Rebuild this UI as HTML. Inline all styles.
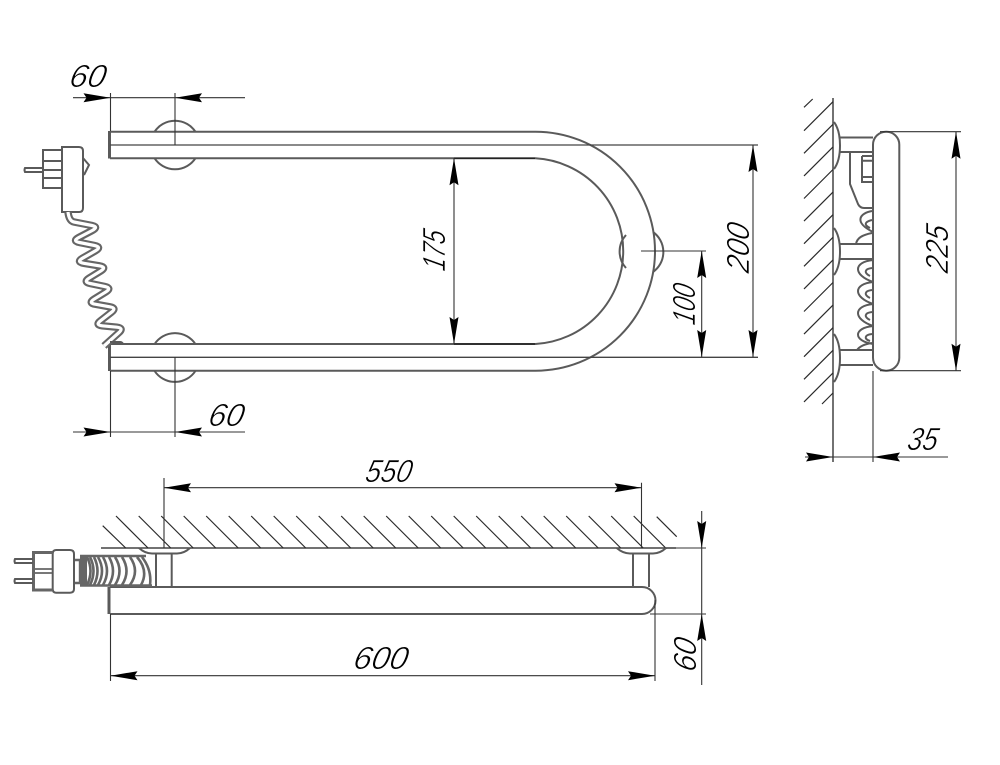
<!DOCTYPE html>
<html><head><meta charset="utf-8"><style>
html,body{margin:0;padding:0;background:#fff}
svg{display:block}
text{font-family:"Liberation Sans",sans-serif;font-style:italic;font-size:32px;fill:#000;stroke:#fff;stroke-width:.6px}
.m{fill:none;stroke:#5a5a5a;stroke-width:2}
.d{fill:none;stroke:#333;stroke-width:1.1}
.h{fill:none;stroke:#2a2a2a;stroke-width:1.2}
</style></head><body>
<svg width="1000" height="765" viewBox="0 0 1000 765" xmlns="http://www.w3.org/2000/svg">
<defs>
<path id="a" d="M0 0L-27 -4.5L-24 0L-27 4.5Z" fill="#000"/>
</defs>
<rect width="1000" height="765" fill="#fff"/>

<!-- FRONT VIEW tube -->
<path class="m" d="M110 131.7H535.5A119.5 119.5 0 0 1 535.5 370.7H110"/>
<path class="m" d="M110 158.3H535.5A93 93 0 0 1 535.5 344H110"/>
<path d="M109.5 131V158.5M109.5 344V371" stroke="#5a5a5a" stroke-width="3" fill="none"/>
<!-- center lines -->
<path d="M110 145H758M110 357.3H758" stroke="#444" stroke-width="1.3" fill="none"/>
<path d="M454 158.3H535M454 344H535" stroke="#222" stroke-width="1.4" fill="none"/>
<!-- rosettes -->
<path class="m" d="M154.6 131.7A24.5 24.5 0 0 1 195.4 131.7M154.6 158.3A24.5 24.5 0 0 0 195.4 158.3"/>
<path class="m" d="M154.6 344A24.5 24.5 0 0 1 195.4 344M154.6 371A24.5 24.5 0 0 0 195.4 371"/>
<path class="m" d="M626 235A24.5 24.5 0 0 0 626 268M653 232A24.5 24.5 0 0 1 653 272"/>

<!-- plug, front view -->
<path class="m" d="M66 147H79Q83 147 83 151V208Q83 212 79 212H62V147Z"/>
<path class="m" d="M62 150H43V188H62M43 161H62M43 170H62M43 178H62"/>
<path class="m" d="M43 168H25Q24 170 25 172H43"/>
<path class="m" d="M83 158L89 165L84 175"/>
<!-- coil -->
<g fill="none" stroke-linecap="butt" stroke-linejoin="round">
<path stroke="#666" stroke-width="7.5" d="M68 212Q69 221 74 222L92 225.5Q99 227 92.2 230.5L78.8 237.5Q72 241 79.5 242.5L94.5 245.5Q102 247 95.5 250.8L82.5 258.2Q76 262 83.8 263.3L99.2 265.8Q107 267 101 270.8L89 278.2Q83 282 90.2 283.5L104.8 286.5Q112 288 106 291.8L94 299.2Q88 303 95.2 304.2L109.8 306.8Q117 308 111.5 312.2L100.5 320.8Q95 325 102.2 325.8L116.8 327.2Q124 328 119 332.5L104 346"/>
<path stroke="#fff" stroke-width="3.2" d="M68 212Q69 221 74 222L92 225.5Q99 227 92.2 230.5L78.8 237.5Q72 241 79.5 242.5L94.5 245.5Q102 247 95.5 250.8L82.5 258.2Q76 262 83.8 263.3L99.2 265.8Q107 267 101 270.8L89 278.2Q83 282 90.2 283.5L104.8 286.5Q112 288 106 291.8L94 299.2Q88 303 95.2 304.2L109.8 306.8Q117 308 111.5 312.2L100.5 320.8Q95 325 102.2 325.8L116.8 327.2Q124 328 119 332.5L104 346"/>
</g>
<path class="m" d="M110 342H120Q122 342 123 344"/>

<!-- front dims -->
<path class="d" d="M110.5 93V131M175 93V145M73 97.7H245"/>
<use href="#a" transform="translate(110.5 97.7)"/>
<use href="#a" transform="translate(175 97.7) rotate(180)"/>
<path class="d" d="M110.5 371V437M175 357V437M73 432H245"/>
<use href="#a" transform="translate(110.5 432)"/>
<use href="#a" transform="translate(175 432) rotate(180)"/>
<path class="d" d="M454 158V344M753 145V357M641 251H706M701.7 251V357"/>
<use href="#a" transform="translate(454 158.3) rotate(-90)"/>
<use href="#a" transform="translate(454 344) rotate(90)"/>
<use href="#a" transform="translate(753 145) rotate(-90)"/>
<use href="#a" transform="translate(753 357) rotate(90)"/>
<use href="#a" transform="translate(701.7 251) rotate(-90)"/>
<use href="#a" transform="translate(701.7 357) rotate(90)"/>
<text transform="translate(68 87) skewX(-12)" textLength="36" lengthAdjust="spacingAndGlyphs">60</text>
<text transform="translate(207 426) skewX(-12)" textLength="35" lengthAdjust="spacingAndGlyphs">60</text>
<text transform="translate(445 272) rotate(-90) skewX(-12)" textLength="40" lengthAdjust="spacingAndGlyphs">175</text>
<text transform="translate(749 274) rotate(-90) skewX(-12)" textLength="49" lengthAdjust="spacingAndGlyphs">200</text>
<text transform="translate(695 326) rotate(-90) skewX(-12)" textLength="40" lengthAdjust="spacingAndGlyphs">100</text>

<!-- SIDE VIEW -->
<path d="M833 98V462" stroke="#444" stroke-width="1.5" fill="none"/>
<path class="h" d="M812.7 99L804 107.3M833 101.7L804 130.7M833 124.3L804 153.3M833 146.9L804 175.9M833 169.5L804 198.5M833 192.1L804 221.1M833 214.7L804 243.7M833 237.3L804 266.3M833 259.9L804 288.9M833 282.5L804 311.5M833 305.1L804 334.1M833 327.7L804 356.7M833 350.3L804 379.3M833 372.9L804 401.9M833 393L822 404"/>
<path class="m" d="M834 122Q840 130 840 145.5Q840 161 834 169M834 228Q840 236 840 251.5Q840 267 834 275M834 334Q840 342 840 358Q840 374 834 382"/>
<path class="m" d="M839 137.5H873M839 152H873M839 244H873M839 259H873M839 350H873M839 365H873"/>
<rect class="m" x="873" y="131.7" width="26.3" height="239" rx="13" ry="13"/>
<path class="m" d="M850 152V184L858 204Q860 208 864 208H873"/>
<path class="m" d="M862 156V182H873M862 156H873M862 160.7H873M862 177H873"/>
<path class="m" d="M872 211C860 213 853 222 873 232M872 220C864 222 864 225 870 228"/>
<path class="m" d="M872 233C862 235 857 238 856 244"/>
<path class="m" d="M873 260C853 262 853 275 873 282M872 268C864 269 864 273 870 276"/>
<path class="m" d="M873 282C853 284 853 297 873 304M872 290C864 291 864 295 870 298"/>
<path class="m" d="M873 304C853 306 853 319 873 326M872 312C864 313 864 317 870 320"/>
<path class="m" d="M873 326C853 328 853 341 873 344M872 334C864 335 864 339 870 341"/>
<path class="m" d="M872 343C865 344 860 346 857 350"/>
<path class="d" d="M880 131.7H961M880 370.7H961M956 131.7V370.7M805 457H948M873 371V462"/>
<use href="#a" transform="translate(956 131.7) rotate(-90)"/>
<use href="#a" transform="translate(956 370.7) rotate(90)"/>
<use href="#a" transform="translate(833 457)"/>
<use href="#a" transform="translate(873 457) rotate(180)"/>
<text transform="translate(948 274) rotate(-90) skewX(-12)" textLength="47" lengthAdjust="spacingAndGlyphs">225</text>
<text transform="translate(906 450) skewX(-12)" textLength="30" lengthAdjust="spacingAndGlyphs">35</text>

<!-- BOTTOM VIEW -->
<path d="M101 548H676" stroke="#444" stroke-width="1.6" fill="none"/>
<path class="h" d="M102.7 525.7L125.7 548M116 516L148 548M138.7 516L170.7 548M161.2 516L193.2 548M183.7 516L215.7 548M206.2 516L238.2 548M228.7 516L260.7 548M251.2 516L283.2 548M273.7 516L305.7 548M296.2 516L328.2 548M318.7 516L350.7 548M341.2 516L373.2 548M363.7 516L395.7 548M386.2 516L418.2 548M408.7 516L440.7 548M431.2 516L463.2 548M453.7 516L485.7 548M476.2 516L508.2 548M498.7 516L530.7 548M521.2 516L553.2 548M543.7 516L575.7 548M566.2 516L598.2 548M588.7 516L620.7 548M611.2 516L643.2 548M633.7 516L665.7 548M656.7 516.7L676.7 536.7"/>
<path class="m" d="M139 548Q145 553.5 152 553.5H177Q184 553.5 190 548M616.7 548Q623 553.5 630 553.5H653Q660 553.5 666 548"/>
<path class="m" d="M156 553V587M171.7 553V587M633 553V587M649 553V587"/>
<path class="m" d="M110 587H642A13.5 13.5 0 0 1 642 614H110"/>
<path d="M109 587V614" stroke="#5a5a5a" stroke-width="3" fill="none"/>
<!-- coil -->
<path d="M80 556H146M80 585.5H152" stroke="#666" stroke-width="2.6" fill="none"/>
<path d="M75 560H80V583H75" stroke="#666" stroke-width="2.4" fill="none"/>
<path d="M80 556H87V586H80Z" fill="#666"/>
<path d="M87 557Q94 571 87 585M90 557Q97 571 90 585M94 557Q101 571 94 585M98 557Q106 571 98 585M103 557Q111 571 103 585M109 557Q117 571 109 585M115 557Q124 571 115 585M122 557Q131 571 122 585M130 557Q140 571 130 585M137 557Q149 571 141 585M142 557Q152 570 150 585" stroke="#666" stroke-width="2.6" fill="none"/>
<!-- plug -->
<path class="m" d="M56 550H70Q74 550 74 554V589Q74 592.7 70 592.7H56Q52.7 592.7 52.7 589V554Q52.7 550 56 550Z"/>
<path d="M52.7 552.5H33.5V590H52.7" fill="none" stroke="#666" stroke-width="3"/>
<path d="M34 569H52M34 573H52" stroke="#666" stroke-width="1.8" fill="none"/>
<path class="m" d="M33 559H15Q14 561 15 563H33M33 579H15Q14 581 15 583H33"/>
<!-- bottom dims -->
<path class="d" d="M164 478V548M641.5 482.7V548M164 487.7H641.5M110.5 614V681M655 600V681M110.5 675.7H655M666 548H706M650 614H706M701.7 511V685"/>
<use href="#a" transform="translate(164 487.7) rotate(180)"/>
<use href="#a" transform="translate(641.5 487.7)"/>
<use href="#a" transform="translate(110.5 675.7) rotate(180)"/>
<use href="#a" transform="translate(655 675.7)"/>
<use href="#a" transform="translate(701.7 548) rotate(90)"/>
<use href="#a" transform="translate(701.7 614) rotate(-90)"/>
<text transform="translate(364 482) skewX(-12)" textLength="46" lengthAdjust="spacingAndGlyphs">550</text>
<text transform="translate(352 669) skewX(-12)" textLength="54" lengthAdjust="spacingAndGlyphs">600</text>
<text transform="translate(696 673) rotate(-90) skewX(-12)" textLength="33" lengthAdjust="spacingAndGlyphs">60</text>
</svg>
</body></html>
